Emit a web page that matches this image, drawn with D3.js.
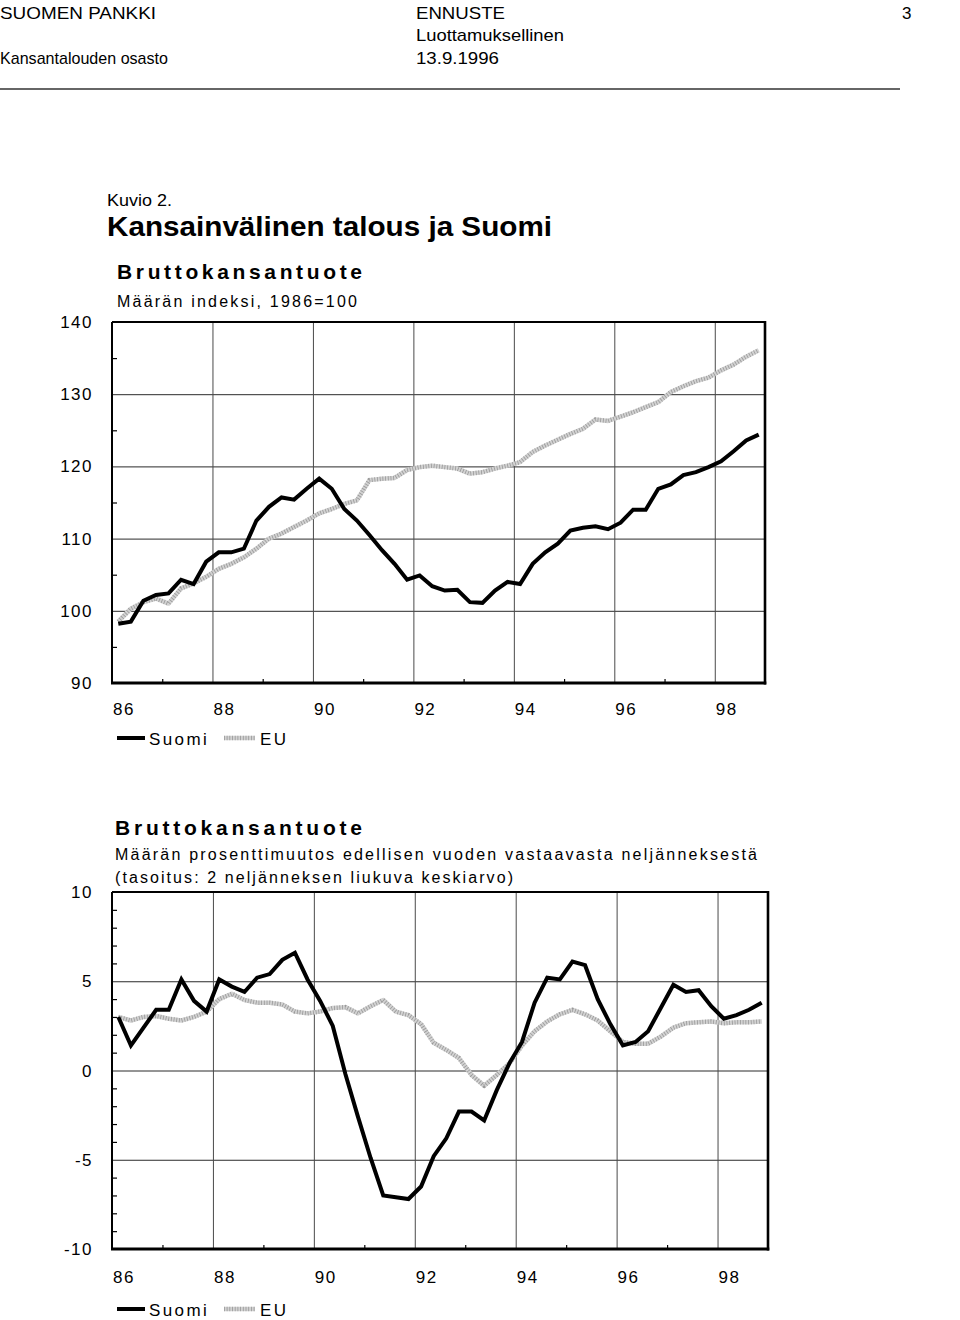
<!DOCTYPE html>
<html><head><meta charset="utf-8">
<script src="https://cdn.jsdelivr.net/npm/d3@7"></script>
<style>
body{margin:0;background:#fff;}
svg text{font-family:"Liberation Sans",Arial,sans-serif;fill:#000;}
</style></head>
<body>
<svg id="c" width="960" height="1320"></svg>
<script>
// ---------- data ----------
const years = [1986,1987,1988,1989,1990,1991,1992,1993,1994,1995,1996,1997,1998];
const quarters = [1,2,3,4];
const xTickYears = [1986,1988,1990,1992,1994,1996,1998];
const xTickLabels = ["86","88","90","92","94","96","98"];
const indexTicks = [90,100,110,120,130,140];
const growthTicks = [-10,-5,0,5,10];

const suomiIndex = [98.2,98.5,101.4,102.2,102.4,104.3,103.7,106.8,108.1,108.1,
  108.6,112.5,114.4,115.7,115.4,116.9,118.3,116.9,114.1,112.5,
  110.5,108.4,106.5,104.3,104.9,103.4,102.8,102.9,101.2,101.1,
  102.8,104.0,103.7,106.5,108.1,109.3,111.1,111.5,111.7,111.3,
  112.2,114.0,114.0,116.9,117.5,118.8,119.2,119.9,120.7,122.1,
  123.6,124.4];
const euIndex = [98.5,100.3,101.2,101.7,101.0,103.1,103.8,104.7,105.8,106.5,
  107.4,108.6,110.0,110.7,111.6,112.5,113.5,114.1,114.8,115.3,
  118.1,118.3,118.4,119.5,119.9,120.1,119.9,119.7,119.0,119.2,
  119.7,120.1,120.6,122.0,122.9,123.7,124.5,125.2,126.5,126.3,
  126.9,127.5,128.2,128.9,130.3,131.1,131.8,132.3,133.3,134.1,
  135.2,136.1];
const suomiGrowth = [3.0,1.4,2.4,3.4,3.4,5.1,3.9,3.3,5.1,4.7,
  4.4,5.2,5.4,6.2,6.6,5.1,3.9,2.5,-0.2,-2.6,
  -4.9,-7.0,-7.1,-7.2,-6.5,-4.8,-3.8,-2.3,-2.3,-2.8,
  -1.1,0.4,1.6,3.8,5.2,5.1,6.1,5.9,4.0,2.6,
  1.4,1.6,2.2,3.5,4.8,4.4,4.5,3.6,2.9,3.1,
  3.4,3.8];
const euGrowth = [3.0,2.8,3.0,3.05,2.9,2.8,3.0,3.3,4.0,4.3,
  3.95,3.8,3.8,3.7,3.3,3.2,3.3,3.5,3.55,3.2,
  3.6,3.95,3.3,3.1,2.6,1.55,1.15,0.7,-0.25,-0.85,
  -0.25,0.4,1.4,2.2,2.75,3.15,3.4,3.15,2.8,2.2,
  1.6,1.5,1.5,1.9,2.4,2.65,2.7,2.75,2.65,2.7,
  2.7,2.75];

// quarter categories (period positions, mid-quarter)
const periods = [];
years.forEach(y => quarters.forEach(q => periods.push(y + (q - 0.5) / 4)));

const svg = d3.select("#c");

// ---------- header ----------
function txt(x, y, s, size, opts = {}) {
  const t = svg.append("text").attr("x", x).attr("y", y).text(s)
    .style("font-size", size + "px");
  if (opts.bold) t.style("font-weight", "bold");
  if (opts.w) t.attr("textLength", opts.w).attr("lengthAdjust", opts.adj || "spacingAndGlyphs");
  if (opts.anchor) t.attr("text-anchor", opts.anchor);
  return t;
}
txt(0, 19, "SUOMEN PANKKI", 17, {w: 156});
txt(416, 19, "ENNUSTE", 17, {w: 89});
txt(902, 19, "3", 17);
txt(416, 41, "Luottamuksellinen", 17, {w: 148});
txt(0, 64, "Kansantalouden osasto", 17, {w: 168});
txt(416, 64, "13.9.1996", 17, {w: 83});
svg.append("line").attr("x1", 0).attr("x2", 900).attr("y1", 89).attr("y2", 89)
  .attr("stroke", "#333").attr("stroke-width", 1.5);

txt(107, 206, "Kuvio 2.", 17, {w: 65});
txt(107, 236, "Kansainvälinen talous ja Suomi", 28, {bold: true, w: 445});
txt(117, 279, "Bruttokansantuote", 21, {bold: true, w: 245, adj: "spacing"});
txt(117, 307, "Määrän indeksi, 1986=100", 16, {w: 240, adj: "spacing"});

txt(115, 835, "Bruttokansantuote", 21, {bold: true, w: 247, adj: "spacing"});
txt(115, 860, "Määrän prosenttimuutos edellisen vuoden vastaavasta neljänneksestä", 16, {w: 642, adj: "spacing"});
txt(115, 883, "(tasoitus: 2 neljänneksen liukuva keskiarvo)", 16, {w: 398, adj: "spacing"});

// ---------- chart builder ----------
function euStroke(sel, pathD) {
  sel.append("path").attr("d", pathD).attr("fill", "none")
    .attr("stroke", "#d2d2d2").attr("stroke-width", 4.5).attr("stroke-linejoin", "round");
  sel.append("path").attr("d", pathD).attr("fill", "none")
    .attr("stroke", "#808080").attr("stroke-width", 4.5).attr("stroke-dasharray", "0.8,1.9")
    .attr("stroke-opacity", 0.7);
}

function chart(cfg) {
  const {left, right, top, bottom, yDomain, majors, minorStep, suomi, eu, labelY, legendY} = cfg;
  const g = svg.append("g");
  const x = d3.scaleLinear().domain([1986, 1999]).range([left, right]);
  const y = d3.scaleLinear().domain(yDomain).range([bottom, top]);

  // horizontal gridlines
  g.append("g").attr("transform", `translate(${left},0)`)
    .call(d3.axisLeft(y).tickValues(majors.slice(1, -1)).tickSize(-(right - left)).tickFormat(""))
    .call(a => a.select(".domain").remove())
    .call(a => a.selectAll("line").attr("stroke", "#2a2a2a").attr("stroke-width", 1));
  // vertical gridlines (every 2 years)
  g.append("g").attr("transform", `translate(0,${bottom})`)
    .call(d3.axisBottom(x).tickValues(xTickYears.slice(1)).tickSize(-(bottom - top)).tickFormat(""))
    .call(a => a.select(".domain").remove())
    .call(a => a.selectAll("line").attr("stroke", "#4a4a4a").attr("stroke-width", 1));
  // minor y ticks (inward)
  const minors = d3.range(yDomain[0] + minorStep, yDomain[1], minorStep).filter(v => !majors.includes(v));
  g.append("g").attr("transform", `translate(${left},0)`)
    .call(d3.axisRight(y).tickValues(minors).tickSize(5).tickFormat(""))
    .call(a => a.select(".domain").remove())
    .call(a => a.selectAll("line").attr("stroke", "#000").attr("stroke-width", 1.2));
  // minor x ticks (odd years, upward)
  g.append("g").attr("transform", `translate(0,${bottom})`)
    .call(d3.axisTop(x).tickValues(years.filter(v => (v - 1986) % 2 === 1)).tickSize(4).tickFormat(""))
    .call(a => a.select(".domain").remove())
    .call(a => a.selectAll("line").attr("stroke", "#000").attr("stroke-width", 1.2));

  // frame
  g.append("line").attr("x1", left).attr("x2", right).attr("y1", top).attr("y2", top).attr("stroke", "#000").attr("stroke-width", 2);
  g.append("line").attr("x1", left).attr("x2", left).attr("y1", top).attr("y2", bottom).attr("stroke", "#000").attr("stroke-width", 2);
  g.append("line").attr("x1", right).attr("x2", right).attr("y1", top - 1).attr("y2", bottom + 1.5).attr("stroke", "#000").attr("stroke-width", 2.6);
  g.append("line").attr("x1", left - 1).attr("x2", right + 1.3).attr("y1", bottom).attr("y2", bottom).attr("stroke", "#000").attr("stroke-width", 3);

  // y labels
  g.append("g").attr("transform", `translate(${left - 19},0)`)
    .call(d3.axisLeft(y).tickValues(majors).tickSize(0).tickPadding(0).tickFormat(d => String(d)))
    .call(a => a.select(".domain").remove())
    .call(a => a.selectAll("text").attr("dy", null).attr("dominant-baseline", "central")
      .style("font-size", "17px").style("letter-spacing", "1.5px")
      .style("font-family", '"Liberation Sans",Arial,sans-serif').attr("fill", "#000"));

  // x labels, left aligned at the year position
  g.selectAll("text.xl").data(xTickLabels).enter().append("text").attr("class", "xl")
    .attr("x", (d, i) => x(xTickYears[i]) + 1).attr("y", labelY)
    .style("font-size", "17px").style("letter-spacing", "1.5px").text(d => d);

  // lines
  const line = d3.line().x((d, i) => x(periods[i])).y(d => y(d));
  euStroke(g, line(eu));
  g.append("path").attr("d", line(suomi)).attr("fill", "none")
    .attr("stroke", "#000").attr("stroke-width", 4).attr("stroke-linejoin", "miter");

  // legend
  g.append("line").attr("x1", 117).attr("x2", 145).attr("y1", legendY - 7).attr("y2", legendY - 7)
    .attr("stroke", "#000").attr("stroke-width", 4);
  g.append("text").attr("x", 149).attr("y", legendY).style("font-size", "17px").style("letter-spacing", "2.4px").text("Suomi");
  euStroke(g, `M224,${legendY - 7}L255,${legendY - 7}`);
  g.append("text").attr("x", 260).attr("y", legendY).style("font-size", "17px").style("letter-spacing", "2.4px").text("EU");
}

chart({left: 112, right: 765, top: 322, bottom: 683, yDomain: [90, 140], majors: indexTicks, minorStep: 5,
  suomi: suomiIndex, eu: euIndex, labelY: 715, legendY: 745});
chart({left: 112, right: 768, top: 892, bottom: 1249, yDomain: [-10, 10], majors: growthTicks, minorStep: 1,
  suomi: suomiGrowth, eu: euGrowth, labelY: 1283, legendY: 1316});
</script>
</body></html>
